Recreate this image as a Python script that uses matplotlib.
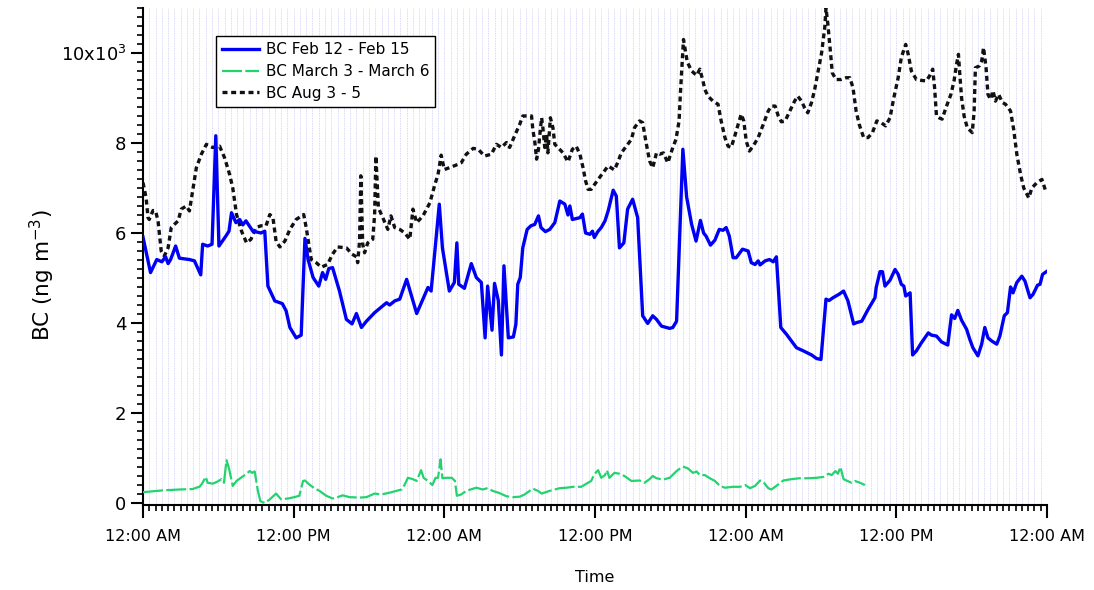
import matplotlib
matplotlib.use("Agg")
import matplotlib.pyplot as plt
from matplotlib.ticker import MultipleLocator

# hours since 12:00 AM of the first day, BC in ng m-3 (x10^3)
feb_t = [0.0, 0.6, 1.1, 1.5, 1.8, 2.0, 2.2, 2.6, 2.9, 3.7,
         4.1, 4.6, 4.75, 5.15, 5.5, 5.8, 6.05, 6.6, 6.85, 7.05,
         7.4, 7.7, 7.95, 8.2, 8.75, 9.4, 9.7, 9.95, 10.5, 11.1,
         11.4, 11.7, 12.2, 12.6, 12.9, 13.15, 13.55, 14.0, 14.3, 14.55,
         14.8, 15.1, 15.65, 16.2, 16.65, 17.0, 17.4, 17.8, 18.45, 19.4,
         19.65, 20.05, 20.45, 21.0, 21.8, 22.3, 22.7, 22.95, 23.6, 23.85,
         24.4, 24.8, 25.0, 25.15, 25.6, 26.15, 26.55, 26.95, 27.25, 27.45,
         27.8, 28.0, 28.3, 28.55, 28.75, 29.1, 29.5, 29.7, 29.85, 30.05,
         30.25, 30.6, 30.9, 31.2, 31.5, 31.7, 32.05, 32.4, 32.8, 33.2,
         33.6, 33.85, 34.0, 34.2, 34.8, 35.0, 35.25, 35.6, 35.8, 35.95,
         36.25, 36.5, 36.8, 37.05, 37.45, 37.7, 37.95, 38.3, 38.6, 39.0,
         39.4, 39.8, 40.2, 40.6, 40.9, 41.3, 41.95, 42.2, 42.5, 43.0,
         43.3, 43.7, 44.05, 44.4, 44.65, 44.85, 45.2, 45.55, 45.9, 46.2,
         46.45, 46.7, 47.0, 47.25, 47.75, 48.2, 48.45, 48.75, 49.0, 49.15,
         49.55, 49.9, 50.2, 50.45, 50.8, 51.25, 52.05, 52.6, 53.25, 53.65,
         54.0, 54.4, 54.65, 54.95, 55.45, 55.8, 56.15, 56.6, 56.85, 57.25,
         57.75, 58.3, 58.4, 58.7, 58.9, 59.1, 59.5, 59.9, 60.15, 60.4,
         60.6, 60.75, 61.1, 61.3, 61.6, 62.0, 62.55, 62.8, 63.2, 63.6,
         64.1, 64.4, 64.65, 64.9, 65.2, 65.6, 65.85, 66.1, 66.5, 66.8,
         67.05, 67.3, 67.6, 68.0, 68.25, 68.6, 68.85, 69.1, 69.3, 69.6,
         70.0, 70.25, 70.65, 70.9, 71.25, 71.45, 71.65, 71.95]
feb_bc = [5.91, 5.12, 5.41, 5.36, 5.47, 5.32, 5.41, 5.71, 5.44, 5.41,
          5.38, 5.07, 5.75, 5.71, 5.75, 8.16, 5.71, 5.93, 6.04, 6.45,
          6.23, 6.30, 6.18, 6.27, 6.04, 6.00, 6.04, 4.82, 4.49, 4.43,
          4.27, 3.90, 3.67, 3.73, 5.88, 5.41, 5.01, 4.82, 5.12, 4.97,
          5.21, 5.23, 4.71, 4.08, 3.98, 4.21, 3.90, 4.04, 4.23, 4.45,
          4.40, 4.49, 4.53, 4.97, 4.21, 4.53, 4.79, 4.71, 6.64, 5.67,
          4.71, 4.90, 5.78, 4.86, 4.77, 5.32, 5.01, 4.90, 3.67, 4.82,
          3.84, 4.88, 4.50, 3.29, 5.27, 3.67, 3.69, 3.97, 4.86, 5.01,
          5.67, 6.08, 6.16, 6.19, 6.38, 6.12, 6.03, 6.08, 6.23, 6.71,
          6.64, 6.40, 6.60, 6.30, 6.34, 6.42, 6.00, 5.97, 6.04, 5.90,
          6.04, 6.12, 6.27, 6.49, 6.95, 6.82, 5.67, 5.78, 6.53, 6.75,
          6.34, 4.16, 3.99, 4.16, 4.08, 3.93, 3.88, 3.90, 4.04, 7.86,
          6.80, 6.19, 5.82, 6.28, 6.00, 5.93, 5.73, 5.84, 6.08, 6.06,
          6.12, 5.93, 5.45, 5.45, 5.64, 5.60, 5.34, 5.30, 5.38, 5.29,
          5.38, 5.41, 5.36, 5.47, 3.90, 3.75, 3.45, 3.38, 3.29, 3.21,
          3.19, 4.53, 4.50, 4.56, 4.64, 4.71, 4.49, 3.98, 4.01, 4.04,
          4.30, 4.56, 4.79, 5.14, 5.14, 4.82, 4.95, 5.19, 5.08, 4.86,
          4.82, 4.60, 4.67, 3.29, 3.38, 3.56, 3.78, 3.73, 3.71, 3.58,
          3.51, 4.18, 4.10, 4.28, 4.06, 3.86, 3.64, 3.45, 3.27, 3.53,
          3.90, 3.67, 3.60, 3.53, 3.71, 4.16, 4.23, 4.80, 4.67, 4.90,
          5.04, 4.93, 4.56, 4.64, 4.84, 4.86, 5.08, 5.14]

mar_t = [0.0, 1.55, 2.9, 3.95, 4.25, 4.5, 4.7, 5.0, 5.15, 5.55,
         5.9, 6.25, 6.45, 6.65, 6.85, 7.15, 7.45, 7.8, 8.2, 8.5,
         8.7, 8.9, 9.15, 9.35, 9.7, 10.1, 10.6, 11.0, 11.55, 12.05,
         12.45, 12.75, 12.9, 13.25, 13.65, 14.05, 14.6, 15.1, 15.5, 15.9,
         16.45, 17.25, 17.8, 18.45, 19.0, 19.65, 20.2, 20.6, 20.85, 21.1,
         21.5, 21.8, 22.15, 22.35, 22.7, 23.05, 23.3, 23.5, 23.7, 23.85,
         24.2, 24.6, 24.85, 25.0, 25.35, 25.75, 26.55, 27.05, 27.45, 27.85,
         28.4, 28.95, 29.45, 30.0, 30.4, 31.05, 31.45, 31.75, 32.4, 33.2,
         33.75, 34.25, 34.9, 35.45, 35.7, 35.95, 36.25, 36.5, 36.8, 36.95,
         37.15, 37.55, 37.95, 38.35, 38.9, 39.55, 39.95, 40.35, 40.6, 40.9,
         41.4, 41.95, 42.5, 43.0, 43.4, 43.8, 44.1, 44.35, 44.75, 45.15,
         45.55, 45.95, 46.35, 47.0, 47.55, 47.95, 48.35, 48.75, 49.15, 49.4,
         49.8, 50.05, 50.45, 51.0, 51.65, 52.3, 53.0, 53.65, 54.2, 54.6,
         54.85, 55.15, 55.35, 55.55, 55.8, 56.1, 56.45, 56.7, 57.1, 57.5]
mar_bc = [0.24, 0.28, 0.30, 0.31, 0.34, 0.36, 0.43, 0.58, 0.45, 0.43,
          0.47, 0.53, 0.45, 0.95, 0.77, 0.38, 0.49, 0.56, 0.64, 0.71,
          0.67, 0.70, 0.27, 0.04, 0.00, 0.08, 0.21, 0.08, 0.10, 0.13,
          0.16, 0.49, 0.50, 0.41, 0.33, 0.27, 0.16, 0.10, 0.13, 0.17,
          0.13, 0.12, 0.13, 0.21, 0.19, 0.23, 0.27, 0.30, 0.41, 0.56,
          0.53, 0.49, 0.73, 0.56, 0.49, 0.40, 0.56, 0.56, 0.97, 0.55,
          0.56, 0.56, 0.49, 0.16, 0.19, 0.27, 0.34, 0.30, 0.33, 0.27,
          0.22, 0.15, 0.13, 0.14, 0.19, 0.32, 0.27, 0.21, 0.27, 0.33,
          0.34, 0.36, 0.36, 0.45, 0.49, 0.64, 0.73, 0.56, 0.62, 0.73,
          0.56, 0.67, 0.65, 0.60, 0.49, 0.50, 0.45, 0.53, 0.60, 0.55,
          0.52, 0.56, 0.71, 0.81, 0.77, 0.67, 0.70, 0.62, 0.62, 0.55,
          0.49, 0.38, 0.34, 0.36, 0.36, 0.40, 0.33, 0.38, 0.50, 0.47,
          0.33, 0.30, 0.38, 0.50, 0.53, 0.55, 0.55, 0.56, 0.58, 0.65,
          0.62, 0.71, 0.65, 0.80, 0.53, 0.49, 0.45, 0.49, 0.45, 0.40]

aug_t = [0.0, 0.25, 0.4, 0.5, 0.8, 1.0, 1.2, 1.45, 1.7, 2.0,
         2.25, 2.5, 2.8, 3.05, 3.45, 3.7, 4.25, 4.65, 5.05, 5.3,
         5.55, 6.1, 6.5, 6.9, 7.15, 7.45, 7.85, 8.25, 8.6, 9.0,
         9.4, 9.8, 10.1, 10.35, 10.6, 10.9, 11.3, 11.7, 12.2, 12.8,
         13.0, 13.25, 13.4, 13.8, 14.2, 14.7, 15.1, 15.5, 16.2, 16.65,
         17.0, 17.1, 17.25, 17.35, 17.5, 17.65, 17.9, 18.3, 18.45, 18.55,
         18.75, 19.1, 19.5, 19.75, 20.05, 20.45, 20.85, 21.25, 21.5, 21.8,
         22.3, 22.85, 23.25, 23.5, 23.75, 24.0, 24.4, 24.95, 25.35, 25.75,
         26.3, 26.7, 27.2, 27.75, 28.15, 28.55, 28.95, 29.2, 29.6, 30.0,
         30.25, 30.65, 30.95, 31.05, 31.2, 31.35, 31.5, 31.6, 31.75, 31.85,
         32.0, 32.15, 32.25, 32.45, 32.65, 32.8, 33.05, 33.45, 33.85, 34.2,
         34.5, 34.8, 35.05, 35.25, 35.45, 35.7, 36.25, 36.65, 37.05, 37.55,
         37.8, 38.1, 38.5, 38.9, 39.15, 39.55, 39.8, 40.05, 40.35, 40.6,
         40.9, 41.15, 41.45, 41.8, 42.2, 42.45, 42.7, 42.8, 43.05, 43.35,
         43.7, 44.1, 44.35, 44.6, 44.75, 45.0, 45.4, 45.8, 46.05, 46.35,
         46.6, 46.85, 47.1, 47.4, 47.65, 47.85, 48.05, 48.3, 48.6, 49.0,
         49.4, 49.8, 50.05, 50.35, 50.6, 50.85, 51.15, 51.45, 51.9, 52.15,
         52.45, 52.7, 52.95, 53.25, 53.5, 53.75, 54.05, 54.3, 54.4, 54.55,
         54.75, 54.9, 55.2, 55.6, 56.0, 56.3, 56.55, 56.8, 57.05, 57.4,
         57.75, 58.1, 58.45, 58.8, 59.15, 59.5, 59.8, 60.15, 60.4, 60.75,
         60.95, 61.2, 61.6, 62.0, 62.4, 62.65, 62.9, 63.05, 63.2, 63.4,
         63.65, 63.95, 64.35, 64.6, 64.8, 64.95, 65.05, 65.2, 65.4, 65.65,
         66.05, 66.2, 66.3, 66.6, 66.8, 66.95, 67.15, 67.3, 67.5, 67.7,
         67.9, 68.15, 68.45, 68.7, 69.1, 69.35, 69.6, 69.9, 70.15, 70.55,
         70.8, 71.2, 71.6, 71.9]
aug_bc = [7.12, 6.78, 6.34, 6.30, 6.50, 6.49, 6.27, 5.60, 5.49, 5.67,
          6.12, 6.19, 6.27, 6.53, 6.60, 6.49, 7.45, 7.75, 7.97, 7.93,
          7.90, 7.93, 7.67, 7.30, 7.00, 6.41, 6.04, 5.78, 5.86, 6.12,
          6.16, 6.16, 6.41, 6.34, 5.82, 5.69, 5.82, 6.08, 6.30, 6.41,
          6.12, 5.67, 5.41, 5.34, 5.24, 5.30, 5.53, 5.69, 5.67, 5.53,
          5.47, 5.34, 5.82, 7.27, 5.75, 5.56, 5.78, 5.86, 6.41, 7.71,
          6.56, 6.34, 6.08, 6.38, 6.12, 6.08, 6.00, 5.86, 6.53, 6.23,
          6.38, 6.67, 7.08, 7.30, 7.73, 7.41, 7.45, 7.51, 7.56, 7.75,
          7.88, 7.86, 7.71, 7.75, 7.97, 7.90, 8.01, 7.90, 8.16, 8.41,
          8.60, 8.60, 8.60, 8.30, 8.04, 7.64, 7.86, 8.16, 8.56, 8.34,
          7.90, 8.19, 7.78, 8.56, 8.34, 7.97, 7.90, 7.78, 7.58, 7.86,
          7.93, 7.75, 7.45, 7.16, 6.97, 6.97, 7.19, 7.34, 7.49, 7.40,
          7.56, 7.78, 7.93, 8.08, 8.34, 8.49, 8.45, 8.04, 7.60, 7.45,
          7.78, 7.75, 7.78, 7.56, 7.90, 8.08, 8.49, 9.08, 10.30, 9.80,
          9.60, 9.50, 9.64, 9.38, 9.19, 9.04, 8.93, 8.86, 8.49, 8.12,
          7.93, 7.90, 8.12, 8.41, 8.64, 8.49, 8.04, 7.82, 7.93, 8.12,
          8.41, 8.71, 8.82, 8.82, 8.60, 8.47, 8.49, 8.67, 8.93, 9.04,
          8.93, 8.78, 8.67, 8.90, 9.19, 9.56, 10.00, 10.56, 11.00, 10.64,
          10.04, 9.56, 9.41, 9.41, 9.45, 9.45, 9.23, 8.71, 8.41, 8.12,
          8.12, 8.23, 8.49, 8.45, 8.38, 8.56, 9.00, 9.45, 9.90, 10.19,
          9.97, 9.60, 9.41, 9.39, 9.38, 9.49, 9.64, 9.23, 8.60, 8.56,
          8.53, 8.78, 9.08, 9.38, 9.75, 9.97, 9.56, 9.00, 8.60, 8.34,
          8.23, 8.71, 9.67, 9.71, 9.82, 10.12, 9.67, 9.08, 8.97, 9.16,
          8.93, 9.08, 8.90, 8.86, 8.71, 8.30, 7.75, 7.30, 7.00, 6.78,
          7.00, 7.12, 7.19, 6.93]

hour_ticks = [0, 12, 24, 36, 48, 60, 72]
hour_labels = ["12:00 AM", "12:00 PM", "12:00 AM", "12:00 PM",
               "12:00 AM", "12:00 PM", "12:00 AM"]
bc_ticks = [0, 2, 4, 6, 8, 10]
bc_labels = ["0", "2", "4", "6", "8", "10x10$^3$"]

fig = plt.figure(figsize=(10.94, 5.90), dpi=100)
ax = fig.add_axes([0.1307, 0.1441, 0.8263, 0.8424])

ax.plot(feb_t, feb_bc, color="#0000f5", lw=2.4, zorder=4,
        label="BC Feb 12 - Feb 15")
ax.plot(mar_t, mar_bc, color="#22d36e", lw=1.6, ls=(0, (9, 1.5)), zorder=3,
        label="BC March 3 - March 6")
ax.plot(aug_t, aug_bc, color="#111111", lw=2.4, ls=(0, (1.5, 1.1)), zorder=3,
        label="BC Aug 3 - 5")

ax.set_xlim(0, 72)
ax.set_ylim(-0.044, 11.0)

ax.set_xticks(hour_ticks)
ax.set_xticklabels(hour_labels)
ax.xaxis.set_minor_locator(MultipleLocator(0.5))
ax.set_yticks(bc_ticks)
ax.set_yticklabels(bc_labels)
ax.yaxis.set_minor_locator(MultipleLocator(0.2))

# faint dotted verticals every half hour
ax.grid(True, which="both", axis="x", color="#cdcdf6", lw=0.6, ls=(0, (1, 1)))
ax.set_axisbelow(True)

for side in ["top", "right"]:
    ax.spines[side].set_visible(False)
for side in ["left", "bottom"]:
    ax.spines[side].set_linewidth(1.5)

ax.tick_params(which="major", direction="out", length=9, width=1.5, labelsize=11.5)
ax.tick_params(which="minor", direction="out", length=4.5, width=1.2)
ax.tick_params(axis="x", which="major", pad=8)
ax.tick_params(axis="y", which="major", pad=3, labelsize=13)

ax.set_xlabel("Time", fontsize=11.5, labelpad=19)
ax.set_ylabel("BC (ng m$^{-3}$)", fontsize=15.5)
ax.yaxis.set_label_coords(-0.095, 0.463)

leg = ax.legend(loc="upper left", bbox_to_anchor=(0.0808, 0.9437), borderaxespad=0,
                fontsize=11, frameon=True, fancybox=False, framealpha=1,
                edgecolor="black", handlelength=2.4, handletextpad=0.45,
                labelspacing=0.45, borderpad=0.4)
leg.get_frame().set_linewidth(1.0)

fig.savefig("out.png", dpi=100)
